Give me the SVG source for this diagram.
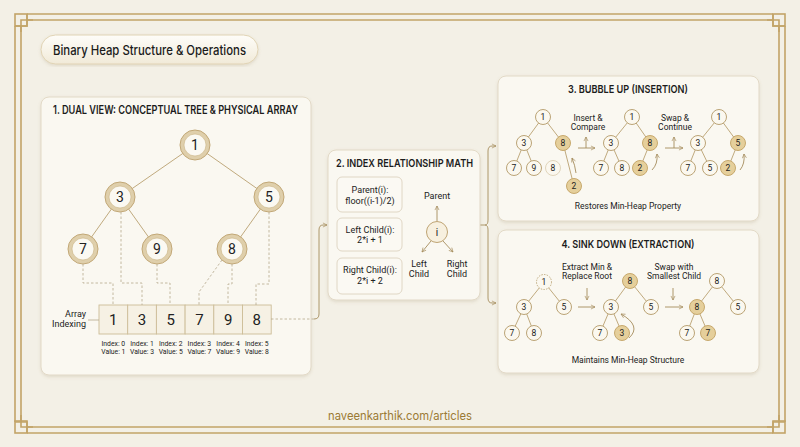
<svg xmlns="http://www.w3.org/2000/svg" width="800" height="447" viewBox="0 0 800 447">
<defs>
<style>
.frame{fill:none;stroke:#c2a468;stroke-width:1.6}
.panel{fill:#faf8f1;stroke:#e2d9c6;stroke-width:1}
.ptitle{font-family:Inter,"Liberation Sans",sans-serif;font-weight:600;fill:#1c1c1c}
.lbl{font-family:Roboto,"Liberation Sans",sans-serif;fill:#222}
.edge{stroke:#b9a071;stroke-width:0.9;fill:none}
.dash{stroke:#b5a88d;stroke-width:0.8;fill:none;stroke-dasharray:2.5 2}
.big-ring{fill:#dfcfab;stroke:#c2a877;stroke-width:1}
.big-in{fill:#fbf9f2;stroke:#c7b080;stroke-width:0.6}
.bigtxt{font-family:Roboto,"Liberation Sans",sans-serif;font-size:14px;fill:#222;text-anchor:middle}
.sn{fill:#fbf8ef;stroke:#b39a68;stroke-width:0.9}
.sg{fill:#e5cf9b;stroke:#c2a262;stroke-width:0.9}
.st{font-family:Roboto,"Liberation Sans",sans-serif;font-size:8.5px;fill:#222;text-anchor:middle}
.cell{fill:#f6f1e4;stroke:#cdbd98;stroke-width:0.9}
.box{fill:#fbf9f3;stroke:#ddd3bf;stroke-width:0.9}
.arr{stroke:#a58c5c;stroke-width:0.9;fill:none}
</style>
<marker id="ah" viewBox="0 0 8 8" refX="7" refY="4" markerWidth="6" markerHeight="6" orient="auto"><path d="M1,1 L7,4 L1,7" fill="none" stroke="#a58c5c" stroke-width="1"/></marker>
<filter id="sh" x="-5%" y="-5%" width="110%" height="115%"><feDropShadow dx="0" dy="1.5" stdDeviation="1.5" flood-color="#8a7548" flood-opacity="0.18"/></filter>
<linearGradient id="pill" x1="0" y1="0" x2="0" y2="1"><stop offset="0" stop-color="#fefdf9"/><stop offset="1" stop-color="#f1ead8"/></linearGradient>
</defs>
<rect x="0" y="0" width="800" height="447" fill="#f3f0e6"/>
<g id="frame">
<path class="frame" d="M27,14 H773 M27,20 H773 M15,26 V422 M21,26 V422 M785,26 V422 M779,26 V422 M27,433 H773 M27,427 H773"/>
<path class="frame" d="M15,26 H27 V14 M785,26 H773 V14 M15,422 H27 V433 M785,422 H773 V433" stroke-width="1.2"/>
<rect x="15" y="14" width="12" height="12" class="frame" stroke-width="1"/>
<rect x="773" y="14" width="12" height="12" class="frame" stroke-width="1"/>
<rect x="15" y="421" width="12" height="12" class="frame" stroke-width="1"/>
<rect x="773" y="421" width="12" height="12" class="frame" stroke-width="1"/>
<path class="frame" d="M21,32 V20 H33 M779,32 V20 H767 M21,415 V427 H33 M779,415 V427 H767" stroke-width="1.2"/>
</g>
<g id="title">
<rect x="41" y="35" width="217" height="29" rx="14.5" fill="url(#pill)" stroke="#e0d3b4" stroke-width="1" filter="url(#sh)"/>
<text x="53" y="55" font-family="Inter,'Liberation Sans',sans-serif" font-size="13" font-weight="500" fill="#1b1b1b" textLength="193" lengthAdjust="spacingAndGlyphs">Binary Heap Structure &amp; Operations</text>
</g>
<g id="panel1">
<rect class="panel" x="41" y="97" width="270" height="278" rx="8" filter="url(#sh)"/>
<text class="ptitle" x="53" y="114" font-size="11.5" textLength="245" lengthAdjust="spacingAndGlyphs">1. DUAL VIEW: CONCEPTUAL TREE &amp; PHYSICAL ARRAY</text>
</g>
<g id="tree-edges">
<path class="edge" d="M195,145 L120,197 M195,145 L269,197 M120,197 L83,249 M120,197 L157,249 M269,197 L232,249"/>
</g>
<g id="node1"><circle class="big-ring" cx="195" cy="145" r="15"/><circle class="big-in" cx="195" cy="145" r="11"/><text class="bigtxt" x="195" y="150">1</text></g>
<g id="node3"><circle class="big-ring" cx="120" cy="197" r="15"/><circle class="big-in" cx="120" cy="197" r="11"/><text class="bigtxt" x="120" y="202">3</text></g>
<g id="node5"><circle class="big-ring" cx="269" cy="197" r="15"/><circle class="big-in" cx="269" cy="197" r="11"/><text class="bigtxt" x="269" y="202">5</text></g>
<g id="node7"><circle class="big-ring" cx="83" cy="249" r="15"/><circle class="big-in" cx="83" cy="249" r="11"/><text class="bigtxt" x="83" y="254">7</text></g>
<g id="node9"><circle class="big-ring" cx="157" cy="249" r="15"/><circle class="big-in" cx="157" cy="249" r="11"/><text class="bigtxt" x="157" y="254">9</text></g>
<g id="node8"><circle class="big-ring" cx="232" cy="249" r="15"/><circle class="big-in" cx="232" cy="249" r="11"/><text class="bigtxt" x="232" y="254">8</text></g>
<g id="array">
<rect class="cell" x="99" y="305" width="28.7" height="29"/>
<rect class="cell" x="127.7" y="305" width="28.7" height="29"/>
<rect class="cell" x="156.4" y="305" width="28.7" height="29"/>
<rect class="cell" x="185.1" y="305" width="28.7" height="29"/>
<rect class="cell" x="213.8" y="305" width="28.7" height="29"/>
<rect class="cell" x="242.5" y="305" width="28.7" height="29"/>
<g font-family="Roboto,'Liberation Sans',sans-serif" font-size="15" fill="#222" text-anchor="middle">
<text x="113.3" y="325">1</text><text x="142" y="325">3</text><text x="170.7" y="325">5</text><text x="199.4" y="325">7</text><text x="228.1" y="325">9</text><text x="256.8" y="325">8</text>
</g>
<g class="lbl" font-size="9" text-anchor="end"><text x="86" y="317">Array</text><text x="86" y="327">Indexing</text></g>
<path d="M88,320 H99" stroke="#b5a88d" stroke-width="0.8"/>
<g class="lbl" font-size="6.8" text-anchor="middle">
<text x="113.3" y="346">Index: 0</text><text x="113.3" y="354">Value: 1</text>
<text x="142" y="346">Index: 1</text><text x="142" y="354">Value: 3</text>
<text x="170.7" y="346">Index: 2</text><text x="170.7" y="354">Value: 5</text>
<text x="199.4" y="346">Index: 3</text><text x="199.4" y="354">Value: 7</text>
<text x="228.1" y="346">Index: 4</text><text x="228.1" y="354">Value: 9</text>
<text x="256.8" y="346">Index: 5</text><text x="256.8" y="354">Value: 8</text>
</g>
</g>
<g id="connectors">
<path class="dash" d="M83,264 V283 H113 V305"/>
<path class="dash" d="M121,212 V283 H142 V305"/>
<path class="dash" d="M157,264 V283 H170 V305"/>
<path class="dash" d="M222,260 L199,292 V305"/>
<path class="dash" d="M232,264 V284 H228 V305"/>
<path class="dash" d="M269,212 V284 H256 V305"/>
<path class="dash" d="M271,319 H314"/>
<path class="arr" d="M314,319 Q319,319 319,314 V230 Q319,225 323,225 H327" marker-end="url(#ah)"/>
<path class="arr" d="M480,225 H485 Q488,225 488,220 V151 Q488,146 492,146 H496" marker-end="url(#ah)"/>
<path class="arr" d="M485,225 Q488,225 488,230 V298 Q488,303 492,303 H496" marker-end="url(#ah)"/>
</g>
<g id="panel2">
<rect class="panel" x="328" y="150" width="152" height="150" rx="8" filter="url(#sh)"/>
<text class="ptitle" x="336" y="167" font-size="11" textLength="137" lengthAdjust="spacingAndGlyphs">2. INDEX RELATIONSHIP MATH</text>
<rect class="box" x="337" y="177" width="65" height="35" rx="5"/>
<rect class="box" x="337" y="218" width="65" height="33" rx="5"/>
<rect class="box" x="337" y="258" width="65" height="36" rx="5"/>
<g class="lbl" font-size="9" text-anchor="middle">
<text x="370" y="193">Parent(i):</text><text x="370" y="204">floor((i-1)/2)</text>
<text x="370" y="233">Left Child(i):</text><text x="370" y="243">2*i + 1</text>
<text x="370" y="273">Right Child(i):</text><text x="370" y="284">2*i + 2</text>
<text x="437" y="199">Parent</text>
<text x="419" y="267">Left</text><text x="419" y="277">Child</text>
<text x="457" y="267">Right</text><text x="457" y="277">Child</text>
</g>
<circle cx="437" cy="232" r="10.5" fill="#f7f0df" stroke="#bfa473" stroke-width="1"/>
<text x="437" y="236" class="lbl" font-size="10" text-anchor="middle">i</text>
<path class="arr" d="M437,221 V206" marker-end="url(#ah)"/>
<path class="arr" d="M431,241 L422,252" marker-end="url(#ah)"/>
<path class="arr" d="M443,241 L453,252" marker-end="url(#ah)"/>
</g>
<g id="panel3">
<rect class="panel" x="498" y="76" width="261" height="145" rx="8" filter="url(#sh)"/>
<text class="ptitle" x="628" y="93" font-size="11" text-anchor="middle" textLength="120" lengthAdjust="spacingAndGlyphs">3. BUBBLE UP (INSERTION)</text>
<path class="edge" d="M543,117 L524,143 M543,117 L563,143 M524,143 L514,168 M524,143 L534,168 M563,143 L574,186"/>
<circle class="sn" cx="543" cy="117" r="7.5"/><text class="st" x="543" y="120">1</text>
<circle class="sn" cx="524" cy="143" r="7.5"/><text class="st" x="524" y="146">3</text>
<circle class="sg" cx="563" cy="143" r="7.5"/><text class="st" x="563" y="146">8</text>
<circle class="sn" cx="514" cy="168" r="7.5"/><text class="st" x="514" y="171">7</text>
<circle class="sn" cx="534" cy="168" r="7.5"/><text class="st" x="534" y="171">9</text>
<circle cx="553" cy="168" r="7.5" fill="#fbf8ef" stroke="#ddd0b4" stroke-width="0.9"/><text class="st" x="553" y="171" fill="#c9bca0">8</text>
<circle class="sg" cx="574" cy="186" r="7.5"/><text class="st" x="574" y="189">2</text>
<path class="arr" d="M576,173 Q575,165 572,158" marker-end="url(#ah)"/>
<g class="lbl" font-size="8.5" text-anchor="middle"><text x="588" y="121">Insert &amp;</text><text x="588" y="130">Compare</text>
<text x="675" y="121">Swap &amp;</text><text x="675" y="130">Continue</text></g>
<path class="arr" d="M578,148 H595" marker-end="url(#ah)"/><path class="arr" d="M586,148 V137" marker-end="url(#ah)"/>
<path class="arr" d="M665,148 H683" marker-end="url(#ah)"/><path class="arr" d="M674,148 V137" marker-end="url(#ah)"/>
<path class="edge" d="M632,117 L611,143 M632,117 L650,143 M611,143 L601,168 M611,143 L622,168 M650,143 L640,168"/>
<circle class="sn" cx="632" cy="117" r="7.5"/><text class="st" x="632" y="120">1</text>
<circle class="sn" cx="611" cy="143" r="7.5"/><text class="st" x="611" y="146">3</text>
<circle class="sg" cx="650" cy="143" r="7.5"/><text class="st" x="650" y="146">8</text>
<circle class="sn" cx="601" cy="168" r="7.5"/><text class="st" x="601" y="171">7</text>
<circle class="sn" cx="622" cy="168" r="7.5"/><text class="st" x="622" y="171">8</text>
<circle class="sg" cx="640" cy="168" r="7.5"/><text class="st" x="640" y="171">2</text>
<path class="arr" d="M652,170 Q658,164 657,154" marker-end="url(#ah)"/>
<path class="edge" d="M719,117 L698,143 M719,117 L738,143 M698,143 L688,168 M698,143 L710,168 M738,143 L728,168"/>
<circle class="sn" cx="719" cy="117" r="7.5"/><text class="st" x="719" y="120">1</text>
<circle class="sn" cx="698" cy="143" r="7.5"/><text class="st" x="698" y="146">3</text>
<circle class="sg" cx="738" cy="143" r="7.5"/><text class="st" x="738" y="146">5</text>
<circle class="sn" cx="688" cy="168" r="7.5"/><text class="st" x="688" y="171">7</text>
<circle class="sn" cx="710" cy="168" r="7.5"/><text class="st" x="710" y="171">5</text>
<circle class="sg" cx="728" cy="168" r="7.5"/><text class="st" x="728" y="171">2</text>
<path class="arr" d="M740,170 Q745,164 744,154" marker-end="url(#ah)"/>
<text class="lbl" x="628" y="209" font-size="8.5" text-anchor="middle">Restores Min-Heap Property</text>
</g>
<g id="panel4">
<rect class="panel" x="498" y="230" width="261" height="143" rx="8" filter="url(#sh)"/>
<text class="ptitle" x="628" y="248" font-size="11" text-anchor="middle" textLength="133" lengthAdjust="spacingAndGlyphs">4. SINK DOWN (EXTRACTION)</text>
<path class="edge" d="M544,282 L524,307 M544,282 L564,307 M524,307 L512,333 M524,307 L534,333"/>
<circle cx="544" cy="282" r="7.5" fill="#fbf8ef" stroke="#b39a68" stroke-width="0.8" stroke-dasharray="1.5 1.2"/><text class="st" x="544" y="285">1</text>
<circle class="sn" cx="524" cy="307" r="7.5"/><text class="st" x="524" y="310">3</text>
<circle class="sn" cx="564" cy="307" r="7.5"/><text class="st" x="564" y="310">5</text>
<circle class="sn" cx="512" cy="333" r="7.5"/><text class="st" x="512" y="336">7</text>
<circle class="sn" cx="534" cy="333" r="7.5"/><text class="st" x="534" y="336">8</text>
<g class="lbl" font-size="8.5" text-anchor="middle"><text x="587" y="270">Extract Min &amp;</text><text x="587" y="279">Replace Root</text>
<text x="674" y="270">Swap with</text><text x="674" y="279">Smallest Child</text></g>
<path class="arr" d="M587,288 V300" marker-end="url(#ah)"/><path class="arr" d="M578,307 H595" marker-end="url(#ah)"/>
<path class="arr" d="M673,288 V300" marker-end="url(#ah)"/><path class="arr" d="M665,307 H683" marker-end="url(#ah)"/>
<path class="edge" d="M630,281 L611,307 M630,281 L651,307 M611,307 L600,333 M611,307 L622,333"/>
<circle class="sg" cx="630" cy="281" r="7.5"/><text class="st" x="630" y="284">8</text>
<circle class="sn" cx="611" cy="307" r="7.5"/><text class="st" x="611" y="310">3</text>
<circle class="sn" cx="651" cy="307" r="7.5"/><text class="st" x="651" y="310">5</text>
<circle class="sn" cx="600" cy="333" r="7.5"/><text class="st" x="600" y="336">7</text>
<circle class="sg" cx="622" cy="333" r="7.5"/><text class="st" x="622" y="336">3</text>
<path class="arr" d="M629,338 Q642,326 621,314" marker-end="url(#ah)"/>
<path class="edge" d="M717,281 L697,307 M717,281 L738,307 M697,307 L687,333 M697,307 L708,333"/>
<circle class="sn" cx="717" cy="281" r="7.5"/><text class="st" x="717" y="284">8</text>
<circle class="sg" cx="697" cy="307" r="7.5"/><text class="st" x="697" y="310">8</text>
<circle class="sn" cx="738" cy="307" r="7.5"/><text class="st" x="738" y="310">5</text>
<circle class="sn" cx="687" cy="333" r="7.5"/><text class="st" x="687" y="336">7</text>
<circle class="sg" cx="708" cy="333" r="7.5"/><text class="st" x="708" y="336">7</text>
<text class="lbl" x="628" y="363" font-size="8.5" text-anchor="middle">Maintains Min-Heap Structure</text>
</g>
<g id="footer">
<text x="400" y="420" font-family="Inter,'Liberation Sans',sans-serif" font-size="12.5" fill="#9b7a34" text-anchor="middle" textLength="144" lengthAdjust="spacingAndGlyphs">naveenkarthik.com/articles</text>
</g>
</svg>
